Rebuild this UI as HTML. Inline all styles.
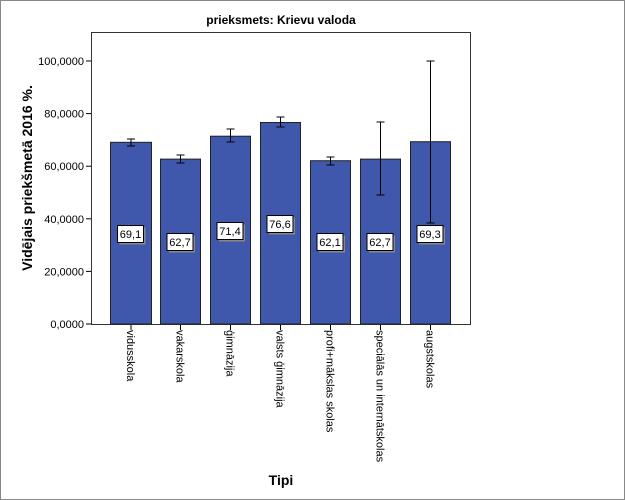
<!DOCTYPE html>
<html><head><meta charset="utf-8"><style>
body{margin:0;background:#fff}
svg{display:block;font-family:"Liberation Sans",Arial,sans-serif}
</style></head><body>
<svg width="625" height="500" viewBox="0 0 625 500">
<rect x="0.5" y="0.5" width="624" height="499" fill="#fff" stroke="#888"/>
<text x="281" y="24" text-anchor="middle" font-size="12" font-weight="bold">prieksmets: Krievu valoda</text>
<rect x="91.5" y="32.5" width="379" height="292" fill="#fff" stroke="#333"/>
<g font-size="11" text-anchor="end" fill="#000">
<line x1="86" x2="91" y1="324" y2="324" stroke="#000"/><text x="84" y="328">0,0000</text>
<line x1="86" x2="91" y1="271.4" y2="271.4" stroke="#000"/><text x="84" y="275.4">20,0000</text>
<line x1="86" x2="91" y1="218.8" y2="218.8" stroke="#000"/><text x="84" y="222.8">40,0000</text>
<line x1="86" x2="91" y1="166.2" y2="166.2" stroke="#000"/><text x="84" y="170.2">60,0000</text>
<line x1="86" x2="91" y1="113.6" y2="113.6" stroke="#000"/><text x="84" y="117.6">80,0000</text>
<line x1="86" x2="91" y1="61" y2="61" stroke="#000"/><text x="84" y="65">100,0000</text>
</g>
<text transform="translate(32,178) rotate(-90)" text-anchor="middle" font-size="14" font-weight="bold">Vidējais priekšmetā 2016 %.</text>
<g stroke="#222" stroke-width="1" fill="#3f58ab">
<rect x="110.5" y="142.3" width="41" height="181.7"/>
<rect x="160.5" y="159.1" width="40" height="164.9"/>
<rect x="210.5" y="136.2" width="40" height="187.8"/>
<rect x="260.5" y="122.5" width="40" height="201.5"/>
<rect x="310.5" y="160.7" width="40" height="163.3"/>
<rect x="360.5" y="159.1" width="40" height="164.9"/>
<rect x="410.5" y="141.7" width="40" height="182.3"/>
</g>
<g stroke="#000" stroke-width="1">
<path d="M131 139V146M127 139H135M127 146H135"/>
<path d="M180.5 155V163M176.5 155H184.5M176.5 163H184.5"/>
<path d="M230.5 129V142M226.5 129H234.5M226.5 142H234.5"/>
<path d="M280.5 117V127M276.5 117H284.5M276.5 127H284.5"/>
<path d="M330.5 157V165M326.5 157H334.5M326.5 165H334.5"/>
<path d="M380.5 122V195M376.5 122H384.5M376.5 195H384.5"/>
<path d="M430.5 61V223M426.5 61H434.5M426.5 223H434.5"/>
<path d="M131 325V330M180.5 325V330M230.5 325V330M280.5 325V330M330.5 325V330M380.5 325V330M430.5 325V330"/>
</g>
<g font-size="11">
<g><rect x="119.5" y="227.5" width="26" height="17" fill="#888"/><rect x="117.5" y="225.5" width="26" height="17" fill="#fff" stroke="#000"/><text x="130.5" y="238" text-anchor="middle">69,1</text></g>
<g><rect x="169" y="235.5" width="26" height="17" fill="#888"/><rect x="167" y="233.5" width="26" height="17" fill="#fff" stroke="#000"/><text x="180" y="246" text-anchor="middle">62,7</text></g>
<g><rect x="219" y="224.5" width="26" height="17" fill="#888"/><rect x="217" y="222.5" width="26" height="17" fill="#fff" stroke="#000"/><text x="230" y="235" text-anchor="middle">71,4</text></g>
<g><rect x="269" y="217.5" width="26" height="17" fill="#888"/><rect x="267" y="215.5" width="26" height="17" fill="#fff" stroke="#000"/><text x="280" y="228" text-anchor="middle">76,6</text></g>
<g><rect x="319" y="235.5" width="26" height="17" fill="#888"/><rect x="317" y="233.5" width="26" height="17" fill="#fff" stroke="#000"/><text x="330" y="246" text-anchor="middle">62,1</text></g>
<g><rect x="369" y="235.5" width="26" height="17" fill="#888"/><rect x="367" y="233.5" width="26" height="17" fill="#fff" stroke="#000"/><text x="380" y="246" text-anchor="middle">62,7</text></g>
<g><rect x="419" y="227.5" width="26" height="17" fill="#888"/><rect x="417" y="225.5" width="26" height="17" fill="#fff" stroke="#000"/><text x="430" y="238" text-anchor="middle">69,3</text></g>
</g>
<g font-size="11">
<text transform="translate(127,330) rotate(90)">vidusskola</text>
<text transform="translate(176.5,330) rotate(90)">vakarskola</text>
<text transform="translate(226.5,330) rotate(90)">ģimnāzija</text>
<text transform="translate(276.5,330) rotate(90)">valsts ģimnāzija</text>
<text transform="translate(326.5,330) rotate(90)">profi+mākslas skolas</text>
<text transform="translate(376.5,330) rotate(90)">speciālās un internātskolas</text>
<text transform="translate(426.5,330) rotate(90)">augstskolas</text>
</g>
<text x="281" y="485" text-anchor="middle" font-size="14" font-weight="bold">Tipi</text>
</svg>
</body></html>
